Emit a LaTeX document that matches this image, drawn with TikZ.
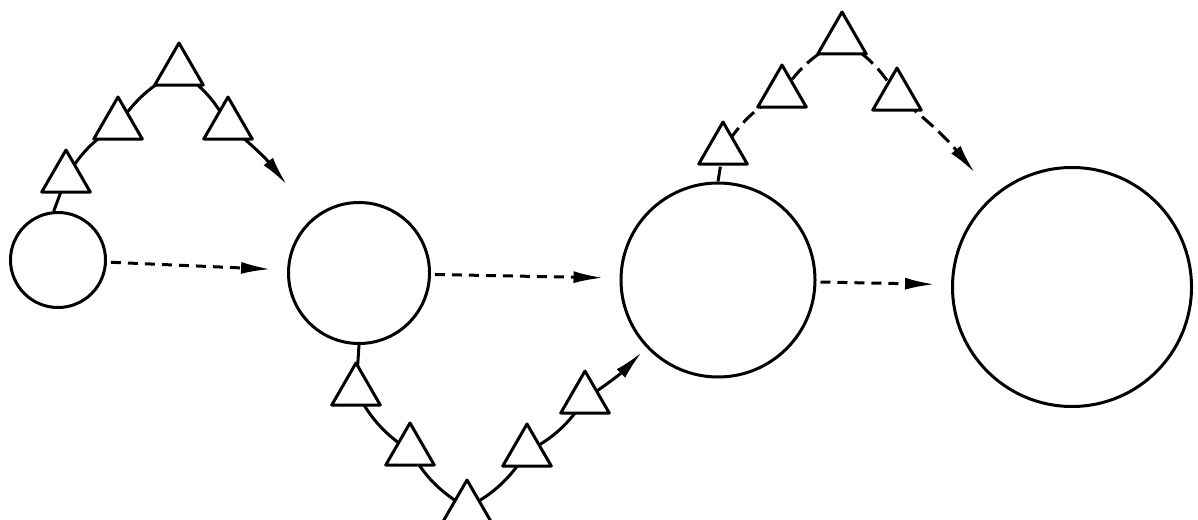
\documentclass[tikz,border=0pt]{standalone}
\usetikzlibrary{shapes.geometric,arrows.meta,backgrounds}
\begin{document}
\begin{tikzpicture}[x=1pt,y=-1pt,
  ring/.style={circle,draw,line width=3pt,inner sep=0pt},
  tri/.style={regular polygon,regular polygon sides=3,draw,fill=white,line width=3pt,line join=round,minimum size=56pt,inner sep=0pt},
  link/.style={line width=3pt},
  dlink/.style={line width=3pt,dash pattern=on 15pt off 7pt},
  tip/.style={-{Latex[length=30pt,width=12pt]}},
  flow/.style={line width=3pt,dash pattern=on 10pt off 7pt,tip,shorten >=16pt,shorten <=4pt},
  up/.style={bend left=14},
  down/.style={bend right=14}
]
\useasboundingbox (0,0) rectangle (1198,519);
% circles
\node[ring,minimum size=95pt]  (c1) at (58,260) {};
\node[ring,minimum size=141pt] (c2) at (359,273) {};
\node[ring,minimum size=194pt] (c3) at (718,280) {};
\node[ring,minimum size=239pt] (c4) at (1072,287) {};
% upper-left triangles
\node[tri] (t1) at (66,178) {};
\node[tri] (t2) at (118,125) {};
\node[tri] (t3) at (179,71) {};
\node[tri] (t4) at (228,125) {};
\coordinate (e1) at (287,185);
% lower triangles
\node[tri] (t5) at (356,391) {};
\node[tri] (t6) at (410,451) {};
\node[tri] (t7) at (467,508) {};
\node[tri] (t8) at (527,452) {};
\node[tri] (t9) at (585,399) {};
\coordinate (e2) at (642,352);
% upper-right triangles
\node[tri] (t10) at (723,150) {};
\node[tri] (t11) at (782,93) {};
\node[tri] (t12) at (842,40) {};
\node[tri] (t13) at (897,96) {};
\coordinate (e3) at (975,173);
% horizontal dashed arrows
\draw[flow] (c1) -- (c2);
\draw[flow] (c2) -- (c3);
\draw[flow] (c3) -- (c4);
% arcs behind triangles
\begin{pgfonlayer}{background}
\draw[link,tip] (c1.95) -- (t1.center) to[up] (t2.center) to[up] (t3.center) to[up] (t4.center) to[bend left=6] (e1);
\draw[link,tip] (c2.south) -- (t5.center) to[down] (t6.center) to[down] (t7.center) to[down] (t8.center) to[down] (t9.center) to[bend right=6] (e2);
\draw[dlink,tip] (c3.north) -- (t10.center) to[up] (t11.center) to[up] (t12.center) to[up] (t13.center) to[bend left=6] (e3);
\end{pgfonlayer}
\end{tikzpicture}
\end{document}
